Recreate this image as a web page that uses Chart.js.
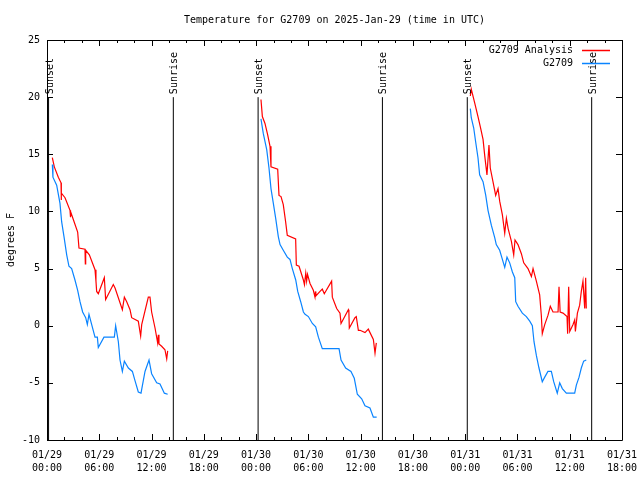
<!DOCTYPE html>
<html>
<head>
<meta charset="utf-8">
<script src="https://cdn.jsdelivr.net/npm/chart.js@4.4.1/dist/chart.umd.min.js"></script>
<style>
  body { margin: 0; background: #fff; }
  canvas { display: block; }
</style>
</head>
<body>
<canvas id="graficoTemp" width="640" height="480"></canvas>
<script>
// hours since 01/29 00:00 UTC; null temp = gap between nights
const analysisHours = [
  0.61, 0.84, 1.30, 1.61, 1.63, 1.66, 2.07, 2.64, 2.68, 2.72, 3.02, 3.52, 3.67, 4.36, 4.40, 4.44,
  4.86, 5.51, 5.62, 5.70, 5.89, 6.58, 6.73, 7.61, 7.81, 8.65, 8.88, 9.15, 9.53, 9.72, 10.48, 10.75,
  10.87, 11.63, 11.82, 12.01, 12.40, 12.70, 12.78, 12.85, 13.16, 13.54, 13.74, 13.85,
  20,
  24.56, 24.72, 25.02, 25.33, 25.60, 25.71, 26.48, 26.63, 26.86, 27.12, 27.39, 27.58, 28.54, 28.62,
  28.93, 29.43, 29.55, 29.70, 29.80, 29.90, 30.19, 30.57, 30.76, 30.82, 30.86, 31.34, 31.60, 31.83,
  32.67, 32.75, 33.25, 33.63, 33.75, 34.59, 34.65, 34.70, 35.35, 35.50, 35.74, 35.93, 36.50, 36.88,
  37.46, 37.65, 37.80,
  44,
  48.59, 48.70, 49.09, 49.47, 49.74, 50.05, 50.24, 50.50, 50.73, 50.88, 51.19, 51.50, 51.77, 51.96,
  52.27, 52.54, 52.73, 52.93, 53.30, 53.57, 53.72, 54.06, 54.45, 54.72, 55.21, 55.60, 55.79, 56.17,
  56.55, 56.74, 56.85, 57.13, 57.50, 57.77, 58.08, 58.66, 58.77, 58.90, 59.23, 59.69, 59.76, 59.88,
  60.00, 60.38, 60.57, 60.65, 60.88, 61.14, 61.33, 61.52, 61.72, 61.83, 61.90
];
const analysisTemps = [
  14.7, 13.9, 13.0, 12.5, 11.0, 11.6, 11.2, 10.1, 9.5, 10.0, 9.3, 8.2, 6.8, 6.7, 5.4, 6.6,
  6.2, 4.9, 3.9, 3.0, 2.8, 4.2, 2.3, 3.6, 3.3, 1.4, 2.5, 2.1, 1.4, 0.7, 0.4, -0.9,
  0.1, 2.5, 2.5, 1.2, -0.2, -1.5, -0.8, -1.6, -1.8, -2.1, -2.9, -2.2,
  null,
  19.8, 18.3, 17.7, 16.7, 15.7, 13.9, 13.7, 11.4, 11.3, 10.6, 9.1, 7.9, 7.6, 5.3,
  5.2, 4.0, 3.6, 4.6, 3.9, 4.5, 3.7, 3.1, 2.5, 3.0, 2.6, 3.0, 3.2, 2.8,
  3.9, 2.5, 1.5, 1.1, 0.2, 1.4, 1.2, -0.2, 0.7, 0.8, -0.4, -0.4, -0.6, -0.3,
  -1.2, -2.4, -1.5,
  null,
  20.1, 20.7, 19.5, 18.3, 17.4, 16.3, 14.9, 13.2, 15.8, 13.8, 12.6, 11.4, 12.0, 10.9,
  9.7, 8.1, 9.4, 8.5, 7.4, 6.2, 7.5, 7.1, 6.3, 5.5, 5.0, 4.3, 5.0, 3.9,
  2.7, 0.9, -0.7, 0.1, 0.9, 1.7, 1.2, 1.2, 3.4, 1.2, 1.1, 0.8, -0.7, 3.4,
  -0.5, 0.1, 0.5, -0.5, 1.1, 1.8, 3.0, 3.9, 1.5, 4.2, 1.5
];

const obsHours = [
  0.61, 0.68, 1.11, 1.49, 1.68, 1.95, 2.26, 2.52, 2.83, 3.21, 3.52, 3.79, 4.09, 4.44, 4.63, 4.82,
  5.13, 5.51, 5.78, 5.89, 6.54, 7.73, 7.88, 8.19, 8.38, 8.65, 8.88, 9.34, 9.80, 10.10, 10.48, 10.79,
  11.25, 11.71, 12.01, 12.59, 12.97, 13.47, 13.85,
  20,
  24.56, 24.83, 25.22, 25.48, 25.71, 25.98, 26.25, 26.55, 26.75, 27.12, 27.58, 27.89, 28.16, 28.55,
  28.78, 29.12, 29.43, 29.62, 30.00, 30.46, 30.84, 31.15, 31.60, 33.52, 33.75, 34.28, 34.89, 35.27,
  35.62, 36.12, 36.50, 37.07, 37.46, 37.84,
  44,
  48.59, 48.70, 48.98, 49.20, 49.47, 49.66, 50.05, 50.36, 50.62, 51.00, 51.39, 51.57, 51.96, 52.27,
  52.54, 52.80, 53.11, 53.42, 53.69, 53.80, 54.06, 54.56, 55.02, 55.41, 55.71, 55.90, 56.17, 56.47,
  56.85, 57.13, 57.50, 57.89, 58.16, 58.57, 58.85, 59.15, 59.61, 60.57, 60.76, 61.07, 61.33, 61.60,
  61.90
];
const obsTemps = [
  14.1, 13.0, 12.3, 10.7, 9.1, 7.8, 6.2, 5.2, 5.0, 4.0, 3.1, 2.1, 1.2, 0.7, 0.1, 1.0,
  0.1, -1.0, -1.0, -1.9, -1.0, -1.0, 0.0, -1.4, -3.0, -4.0, -3.1, -3.7, -4.0, -4.8, -5.8, -5.9,
  -4.0, -3.0, -4.2, -5.0, -5.1, -5.9, -6.0,
  null,
  18.1, 16.8, 15.4, 13.8, 12.0, 10.7, 9.4, 7.8, 7.1, 6.6, 6.0, 5.8, 5.0, 4.0,
  3.0, 2.1, 1.2, 1.0, 0.8, 0.2, -0.1, -1.0, -2.0, -2.0, -3.0, -3.7, -4.0, -4.6,
  -6.0, -6.4, -7.0, -7.2, -8.0, -8.0,
  null,
  19.0, 18.2, 17.3, 16.1, 14.7, 13.2, 12.6, 11.4, 10.1, 8.8, 7.7, 7.1, 6.6, 5.8,
  5.1, 6.0, 5.5, 4.7, 4.2, 2.1, 1.7, 1.1, 0.8, 0.4, 0.0, -1.4, -2.6, -3.7,
  -4.9, -4.5, -4.0, -4.0, -4.9, -5.9, -5.0, -5.5, -5.9, -5.9, -5.2, -4.5, -3.7, -3.1,
  -3.0
];

const sunsetHours = [0.18, 24.23, 48.24];
const sunriseHours = [14.5, 38.5, 62.52];

const xTickDates = ['01/29', '01/29', '01/29', '01/29', '01/30', '01/30', '01/30', '01/30', '01/31', '01/31', '01/31', '01/31'];
const xTickTimes = ['00:00', '06:00', '12:00', '18:00', '00:00', '06:00', '12:00', '18:00', '00:00', '06:00', '12:00', '18:00'];

const monoFont = 'DejaVu Sans Mono';
Chart.defaults.font.family = monoFont;
Chart.defaults.font.size = 10;
Chart.defaults.color = '#000';

function toPoints(hours, temps) {
  return hours.map((h, i) => ({ x: h, y: temps[i] }));
}

function sunPoints() {
  const pts = [];
  sunsetHours.concat(sunriseHours).sort((a, b) => a - b).forEach(h => {
    pts.push({ x: h, y: -10 }, { x: h, y: 20 }, { x: h, y: null });
  });
  return pts;
}

// frame, inward ticks, sun labels and key, gnuplot style
const gnuplotBits = {
  id: 'gnuplotBits',
  afterDatasetsDraw(chart) {
    const { ctx, chartArea: a, scales: { x, y } } = chart;
    ctx.save();
    ctx.strokeStyle = '#000';
    ctx.lineWidth = 1;
    ctx.beginPath();
    ctx.rect(Math.round(a.left) + 0.5, Math.round(a.top) + 0.5, Math.round(a.right - a.left), Math.round(a.bottom - a.top));
    for (let h = 0; h <= 66; h += 2) {
      const px = Math.round(x.getPixelForValue(h)) + 0.5;
      const len = h % 6 === 0 ? 6 : 3;
      ctx.moveTo(px, a.bottom); ctx.lineTo(px, a.bottom - len);
      ctx.moveTo(px, a.top); ctx.lineTo(px, a.top + len);
    }
    for (let v = -10; v <= 25; v += 5) {
      const py = Math.round(y.getPixelForValue(v)) + 0.5;
      ctx.moveTo(a.left, py); ctx.lineTo(a.left + 6, py);
      ctx.moveTo(a.right, py); ctx.lineTo(a.right - 6, py);
    }
    ctx.stroke();

    ctx.fillStyle = '#000';
    ctx.font = '10px "' + monoFont + '"';
    ctx.textAlign = 'left';
    ctx.textBaseline = 'middle';
    const labelY = y.getPixelForValue(20) - 3;
    const sunLabel = (h, txt) => {
      ctx.save();
      ctx.translate(Math.round(x.getPixelForValue(h)) + 1, labelY);
      ctx.rotate(-Math.PI / 2);
      ctx.fillText(txt, 0, 0);
      ctx.restore();
    };
    sunsetHours.forEach(h => sunLabel(h, 'Sunset'));
    sunriseHours.forEach(h => sunLabel(h, 'Sunrise'));

    // key
    ctx.textAlign = 'right';
    chart.data.datasets.slice(0, 2).forEach((ds, i) => {
      const ky = Math.round(a.top + 10 + i * 13) + 0.5;
      ctx.fillStyle = '#000';
      ctx.fillText(ds.label, a.right - 49, ky);
      ctx.strokeStyle = ds.borderColor;
      ctx.lineWidth = 1.5;
      ctx.beginPath();
      ctx.moveTo(a.right - 40, ky);
      ctx.lineTo(a.right - 12, ky);
      ctx.stroke();
    });
    ctx.restore();
  }
};

const graphTemp = new Chart(document.querySelector('#graficoTemp'), {
  type: 'line',
  data: {
    datasets: [{
      label: 'G2709 Analysis',
      data: toPoints(analysisHours, analysisTemps),
      borderColor: '#ff0000',
      borderWidth: 1.2,
      pointRadius: 0,
      spanGaps: false,
      order: 2
    }, {
      label: 'G2709',
      data: toPoints(obsHours, obsTemps),
      borderColor: '#0a84ff',
      borderWidth: 1.2,
      pointRadius: 0,
      spanGaps: false,
      order: 1
    }, {
      label: 'sun',
      data: sunPoints(),
      borderColor: '#000',
      borderWidth: 1,
      pointRadius: 0,
      spanGaps: false,
      order: 3
    }]
  },
  options: {
    responsive: false,
    animation: false,
    devicePixelRatio: 1,
    layout: { padding: { left: 0, right: 18, top: 0, bottom: 0 } },
    plugins: {
      legend: { display: false },
      tooltip: { enabled: false },
      title: {
        display: true,
        text: 'Temperature for G2709 on 2025-Jan-29 (time in UTC)',
        font: { size: 10, weight: 'normal' },
        color: '#000',
        fullSize: false,
        padding: { top: 14, bottom: 14 }
      }
    },
    scales: {
      x: {
        type: 'linear',
        min: 0,
        max: 66,
        afterFit: s => {
          s.height = 40;
          s.paddingLeft = 0;
          s.paddingRight = 0;
        },
        grid: { display: false, drawTicks: false },
        border: { display: false },
        ticks: {
          stepSize: 6,
          padding: 9,
          maxRotation: 0,
          autoSkip: false,
          font: { size: 10, lineHeight: 1.3 },
          callback: (v) => {
            const i = Math.round(v / 6);
            return [xTickDates[i], xTickTimes[i]];
          }
        }
      },
      y: {
        min: -10,
        max: 25,
        afterFit: s => {
          s.width = 47;
          s.paddingTop = 0;
          s.paddingBottom = 0;
        },
        grid: { display: false, drawTicks: false },
        border: { display: false },
        ticks: { stepSize: 5, padding: 7 },
        title: {
          display: true,
          text: 'degrees F',
          font: { size: 10 },
          padding: { top: 5, bottom: 0 }
        }
      }
    }
  },
  plugins: [gnuplotBits]
});
</script>
</body>
</html>
